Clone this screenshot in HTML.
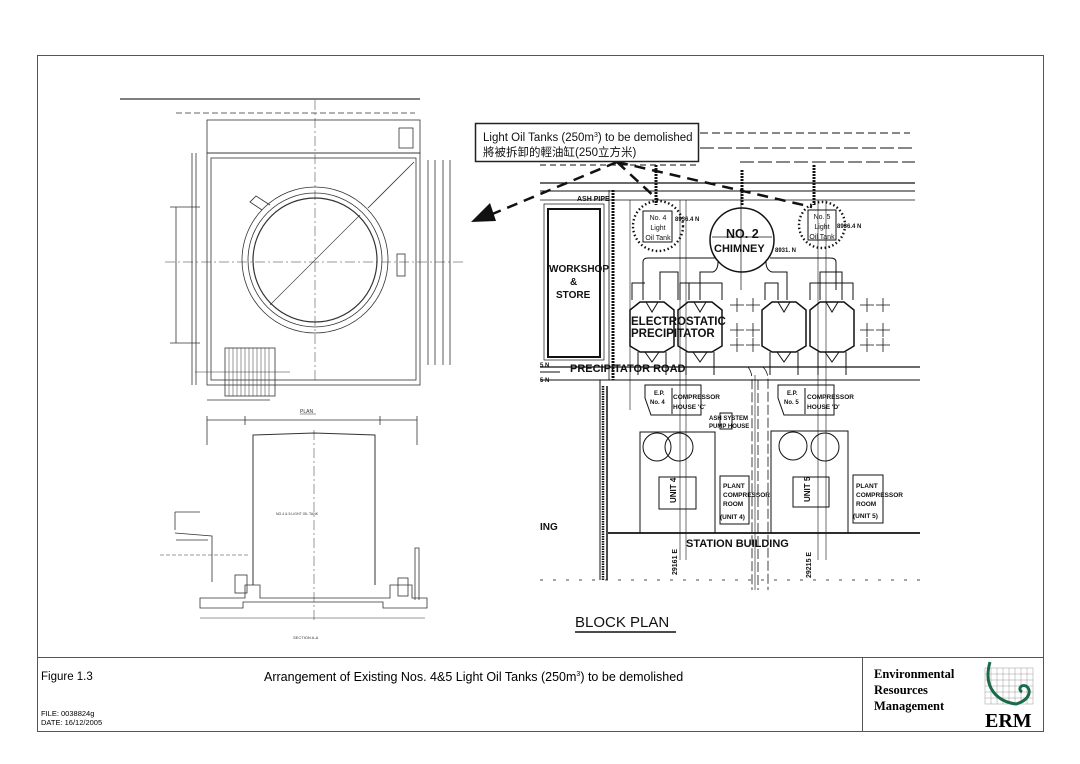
<!DOCTYPE html>
<html><head><meta charset="utf-8"><style>
html,body{margin:0;padding:0;background:#fff;}
svg{display:block;}
text{font-family:"Liberation Sans","Noto Sans CJK TC",sans-serif;}
</style></head><body>
<svg width="1080" height="764" viewBox="0 0 1080 764" xmlns="http://www.w3.org/2000/svg">
<rect x="0" y="0" width="1080" height="764" fill="#fff"/>
<rect x="37.5" y="55.5" width="1006" height="676" fill="none" stroke="#555" stroke-width="1"/>
<line x1="37" y1="657.5" x2="1043" y2="657.5" stroke="#555"/>
<line x1="862.5" y1="657" x2="862.5" y2="731" stroke="#555"/>
<text x="41" y="680" font-size="11.5">Figure 1.3</text>
<text x="264" y="681" font-size="12.5">Arrangement of Existing Nos. 4&amp;5 Light Oil Tanks (250m<tspan font-size="7" dy="-5">3</tspan><tspan dy="5">) to be demolished</tspan></text>
<text x="41" y="716" font-size="7.5">FILE: 0038824g</text>
<text x="41" y="725" font-size="7.5">DATE: 16/12/2005</text>
<text x="874" y="678" font-size="12.5" font-weight="bold" style="font-family:'Liberation Serif',serif">Environmental</text>
<text x="874" y="694" font-size="12.5" font-weight="bold" style="font-family:'Liberation Serif',serif">Resources</text>
<text x="874" y="710" font-size="12.5" font-weight="bold" style="font-family:'Liberation Serif',serif">Management</text>
<g stroke="#9a9a9a" stroke-width="0.5">
<rect x="985" y="668" width="48" height="36" fill="none"/>
<path d="M985 674H1033M985 680H1033M985 686H1033M985 692H1033M985 698H1033M991 668V704M997 668V704M1003 668V704M1009 668V704M1015 668V704M1021 668V704M1027 668V704"/>
</g>
<path d="M990 662 C982 690 1000 702 1016 704 C1030 700 1032 690 1026 686 C1020 684 1018 690 1022 692" fill="none" stroke="#1a6b4a" stroke-width="3"/>
<text x="985" y="727" font-size="20" font-weight="bold" style="font-family:'Liberation Serif',serif">ERM</text>

<g fill="none" stroke="#333" stroke-width="0.8">
<line x1="120" y1="99" x2="420" y2="99" stroke-width="1.2"/>
<line x1="176" y1="113" x2="415" y2="113" stroke-dasharray="6 3"/>
<rect x="207" y="120" width="213" height="33"/>
<rect x="207" y="153" width="213" height="232"/>
<rect x="211" y="158" width="205" height="222"/>
<line x1="192" y1="153" x2="192" y2="385"/>
<line x1="196" y1="153" x2="196" y2="385"/>
<line x1="176" y1="207" x2="176" y2="343"/>
<line x1="170" y1="207" x2="200" y2="207"/>
<line x1="170" y1="343" x2="200" y2="343"/>
<line x1="428" y1="160" x2="428" y2="365"/>
<line x1="450" y1="160" x2="450" y2="365"/>
<line x1="435" y1="160" x2="435" y2="365"/>
<line x1="443" y1="160" x2="443" y2="365"/>
<rect x="399" y="128" width="14" height="20"/>
<circle cx="315" cy="260" r="73"/>
<circle cx="315" cy="260" r="67"/>
<circle cx="315" cy="260" r="62" stroke-width="1.2"/>
<path d="M262 210 l-12 -8 l6 -6 l14 9" />
<line x1="315" y1="100" x2="315" y2="380" stroke-dasharray="10 3 2 3" stroke-width="0.5"/>
<line x1="165" y1="262" x2="465" y2="262" stroke-dasharray="10 3 2 3" stroke-width="0.5"/>
<line x1="270" y1="305" x2="360" y2="215" stroke-width="0.6"/>
<line x1="368" y1="208" x2="414" y2="162"/>
<rect x="397" y="254" width="8" height="22"/>
<rect x="225" y="348" width="50" height="48"/>
<path d="M229 348V396M233 348V396M237 348V396M241 348V396M245 348V396M249 348V396M253 348V396M257 348V396M261 348V396M265 348V396M269 348V396" stroke-width="0.5"/>
<line x1="207" y1="400" x2="270" y2="400"/>
<line x1="195" y1="372" x2="290" y2="372" stroke-width="0.5"/>
<text x="300" y="413" font-size="5" fill="#333" stroke="none">PLAN</text>
<line x1="300" y1="414" x2="316" y2="414" stroke-width="0.5"/>
<line x1="207" y1="420" x2="417" y2="420"/>
<line x1="207" y1="416" x2="207" y2="445"/><line x1="417" y1="416" x2="417" y2="445"/>
<line x1="245" y1="416" x2="245" y2="425"/><line x1="380" y1="416" x2="380" y2="425"/>
<path d="M253 585 V435 L314 433 L375 435 V585" stroke-width="1"/>
<line x1="314" y1="430" x2="314" y2="620" stroke-dasharray="10 3 2 3" stroke-width="0.5"/>
<path d="M200 598 H245 V585 H260 V598 H390 V585 H412 V598 H427 V608 H383 V602 H243 V608 H200 Z" />
<path d="M175 533 L212 536 V582" /><line x1="176" y1="540" x2="208" y2="540"/>
<line x1="175" y1="512" x2="175" y2="530"/>
<line x1="175" y1="512" x2="200" y2="512"/>
<path d="M415 600 V548 H419 V600"/>
<line x1="160" y1="555" x2="250" y2="555" stroke-dasharray="4 2" stroke-width="0.5"/>
<line x1="200" y1="618" x2="425" y2="618" stroke-width="0.5"/>
<rect x="235" y="575" width="12" height="18"/>
<rect x="398" y="578" width="10" height="18"/>
<text x="293" y="639" font-size="4" fill="#333" stroke="none">SECTION  A-A</text>
<text x="276" y="515" font-size="3.5" fill="#333" stroke="none">NO.4 &amp; 5 LIGHT OIL TANK</text>
</g>

<g fill="none" stroke="#111" stroke-width="1">
<line x1="700" y1="133" x2="910" y2="133" stroke-dasharray="8 4"/>
<line x1="700" y1="148" x2="915" y2="148" stroke-dasharray="14 4"/>
<line x1="740" y1="162" x2="915" y2="162" stroke-dasharray="14 4"/>
<line x1="540" y1="183" x2="915" y2="183" stroke-width="1.2"/>
<line x1="540" y1="191" x2="915" y2="191"/>
<line x1="540" y1="200" x2="915" y2="200" stroke-width="0.7"/>
<line x1="540" y1="165" x2="700" y2="165" stroke-dasharray="6 4"/>
<rect x="548" y="209" width="52" height="148" stroke-width="2"/>
<rect x="544" y="204" width="60" height="156" stroke-width="0.7"/>
<line x1="613" y1="190" x2="613" y2="380" stroke-width="3" stroke-dasharray="2 1"/>
<line x1="609" y1="190" x2="609" y2="380" stroke-width="0.8"/>
<line x1="540" y1="367" x2="920" y2="367" stroke-width="1.2"/>
<line x1="540" y1="380" x2="920" y2="380"/>
<line x1="540" y1="372" x2="560" y2="372"/>
<circle cx="742" cy="240" r="32" stroke-width="1.5"/>
<line x1="712" y1="237" x2="772" y2="237" stroke-width="0.7"/>
<line x1="741" y1="190" x2="741" y2="290" stroke-width="0.7"/>
<line x1="742" y1="170" x2="742" y2="205" stroke-width="3" stroke-dasharray="2 1"/>
<line x1="656" y1="165" x2="656" y2="205" stroke-width="3" stroke-dasharray="2 1"/>
<line x1="814" y1="165" x2="814" y2="205" stroke-width="3" stroke-dasharray="2 1"/>
<rect x="643" y="211" width="29" height="31"/>
<rect x="808" y="210" width="28" height="30"/>
<circle cx="658" cy="226" r="25" stroke-dasharray="1.5 2.5" stroke-width="2.4"/>
<circle cx="822" cy="225" r="23" stroke-dasharray="1.5 2.5" stroke-width="2.4"/>
<path d="M643 300 V262 Q643 258 648 258 H715 M770 258 H830 Q836 258 836 262 V290"/>
<path d="M660 300 V272 H678 V300 M700 300 V272 H713 Q718 270 718 262 M766 262 Q766 270 772 272 H787 V300 M820 300 V272 H842 V300"/>
<path d="M632 300 V283 H645 M689 283 V300 M680 300 V283 H722 V300 M765 300 V283 H778 V300 M810 300 V283 H853 V300"/>
<g id="ep">
<path d="M640 302 H664 L674 310 V346 L664 352 H640 L630 346 V310 Z" stroke-width="1.5"/>
<path d="M646 302 L652 312 L658 302"/>
<path d="M638 352 V375 M666 352 V375 M645 352 L652 362 L659 352"/>
</g>
<use href="#ep" x="48"/>
<use href="#ep" x="132"/>
<use href="#ep" x="180"/>
<line x1="630" y1="200" x2="630" y2="410" stroke-width="0.6"/>
<line x1="680" y1="200" x2="680" y2="560" stroke-width="0.6"/>
<line x1="686" y1="200" x2="686" y2="560" stroke-width="0.6"/>
<line x1="818" y1="200" x2="818" y2="560" stroke-width="0.6"/>
<line x1="826" y1="200" x2="826" y2="560" stroke-width="0.6"/>
<g stroke-width="0.8">
<path d="M730 305h14M737 298v14M730 330h14M737 323v14M730 345h14M737 338v14M746 305h14M753 298v14M746 330h14M753 323v14M746 345h14M753 338v14"/>
<path d="M860 305h14M867 298v14M860 330h14M867 323v14M860 345h14M867 338v14M876 305h14M883 298v14M876 330h14M883 323v14M876 345h14M883 338v14"/>
</g>
<path d="M748 367 Q752 372 752 380 V590 M758 380 V590 M763 367 Q768 372 768 380 V590" stroke-dasharray="10 3" stroke-width="0.8"/>
<path d="M645 385 H701 V415 H651 L645 398 Z"/>
<line x1="672" y1="388" x2="672" y2="414"/>
<path d="M778 385 H834 V415 H784 L778 398 Z"/>
<line x1="805" y1="388" x2="805" y2="414"/>
<rect x="720" y="413" width="12" height="16"/>
<rect x="640" y="432" width="75" height="101"/>
<circle cx="657" cy="447" r="14"/><circle cx="679" cy="447" r="14"/>
<rect x="659" y="477" width="37" height="32"/>
<rect x="720" y="476" width="29" height="48"/>
<rect x="771" y="431" width="77" height="102"/>
<circle cx="793" cy="446" r="14"/><circle cx="825" cy="447" r="14"/>
<rect x="793" y="477" width="36" height="30"/>
<rect x="853" y="475" width="30" height="48"/>
<line x1="608" y1="533" x2="920" y2="533" stroke-width="1.8"/>
<line x1="600" y1="380" x2="600" y2="580"/>
<line x1="607" y1="386" x2="607" y2="580" stroke-width="1.5"/>
<line x1="603" y1="386" x2="603" y2="580" stroke-width="2.5" stroke-dasharray="1.5 1"/>
<line x1="540" y1="580" x2="920" y2="580" stroke-dasharray="3 10" stroke-width="0.8"/>
<line x1="755" y1="375" x2="755" y2="590" stroke-width="0.6"/>
</g>
<g font-weight="bold" fill="#111">
<text x="577" y="201" font-size="7">ASH PIPE</text>
<text x="549" y="272" font-size="10">WORKSHOP</text>
<text x="570" y="285" font-size="10">&amp;</text>
<text x="556" y="298" font-size="10">STORE</text>
<text x="726" y="238" font-size="12.5">NO. 2</text>
<text x="714" y="252" font-size="11">CHIMNEY</text>
<text x="631" y="325" font-size="11.5">ELECTROSTATIC</text>
<text x="631" y="337" font-size="11.5">PRECIPITATOR</text>
<text x="570" y="372" font-size="11">PRECIPITATOR  ROAD</text>
<text x="540" y="367" font-size="6">5 N</text>
<text x="540" y="382" font-size="6">5 N</text>
<text x="675" y="221" font-size="6">8936.4 N</text>
<text x="837" y="228" font-size="6">8936.4 N</text>
<text x="775" y="252" font-size="6">8931. N</text>
<text x="654" y="395" font-size="6">E.P.</text><text x="650" y="404" font-size="6">No. 4</text>
<text x="673" y="399" font-size="6.5">COMPRESSOR</text><text x="673" y="409" font-size="6.5">HOUSE 'C'</text>
<text x="787" y="395" font-size="6">E.P.</text><text x="784" y="404" font-size="6">No. 5</text>
<text x="807" y="399" font-size="6.5">COMPRESSOR</text><text x="807" y="409" font-size="6.5">HOUSE 'D'</text>
<text x="709" y="420" font-size="6">ASH SYSTEM</text><text x="709" y="428" font-size="6">PUMP HOUSE</text>
<text x="723" y="488" font-size="6.5">PLANT</text><text x="723" y="497" font-size="6.5">COMPRESSOR</text><text x="723" y="506" font-size="6.5">ROOM</text><text x="720" y="519" font-size="6.5">(UNIT 4)</text>
<text x="856" y="488" font-size="6.5">PLANT</text><text x="856" y="497" font-size="6.5">COMPRESSOR</text><text x="856" y="506" font-size="6.5">ROOM</text><text x="853" y="518" font-size="6.5">(UNIT 5)</text>
<text x="676" y="503" font-size="8" transform="rotate(-90 676 503)">UNIT 4</text>
<text x="810" y="502" font-size="8" transform="rotate(-90 810 502)">UNIT 5</text>
<text x="540" y="530" font-size="10">ING</text>
<text x="686" y="547" font-size="11">STATION   BUILDING</text>
<text x="677" y="575" font-size="7" transform="rotate(-90 677 575)">29161 E</text>
<text x="811" y="578" font-size="7" transform="rotate(-90 811 578)">29215 E</text>
<text x="575" y="627" font-size="15" font-weight="normal">BLOCK PLAN</text>
</g>
<line x1="575" y1="632" x2="676" y2="632" stroke="#111" stroke-width="1.5"/>
<g fill="#111" font-size="7" text-anchor="middle">
<text x="658" y="220">No. 4</text><text x="658" y="230">Light</text><text x="658" y="240">Oil Tank</text>
<text x="822" y="219">No. 5</text><text x="822" y="229">Light</text><text x="822" y="239">Oil Tank</text>
</g>
<g stroke="#111" stroke-width="2.5" fill="none" stroke-dasharray="11 7">
<line x1="617" y1="162" x2="490" y2="215"/>
<line x1="617" y1="162" x2="658" y2="200"/>
<line x1="617" y1="162" x2="812" y2="207"/>
</g>
<polygon points="471,222 490,203 496,221" fill="#111"/>
<rect x="475.5" y="123.5" width="223" height="38" fill="#fff" stroke="#222" stroke-width="1.5"/>
<text x="483" y="141" font-size="11.5" fill="#111">Light Oil Tanks (250m<tspan font-size="7" dy="-4">3</tspan><tspan dy="4">) to be demolished</tspan></text>
<text x="483" y="156" font-size="11.5" fill="#111">將被拆卸的輕油缸(250立方米)</text>
</svg>
</body></html>
